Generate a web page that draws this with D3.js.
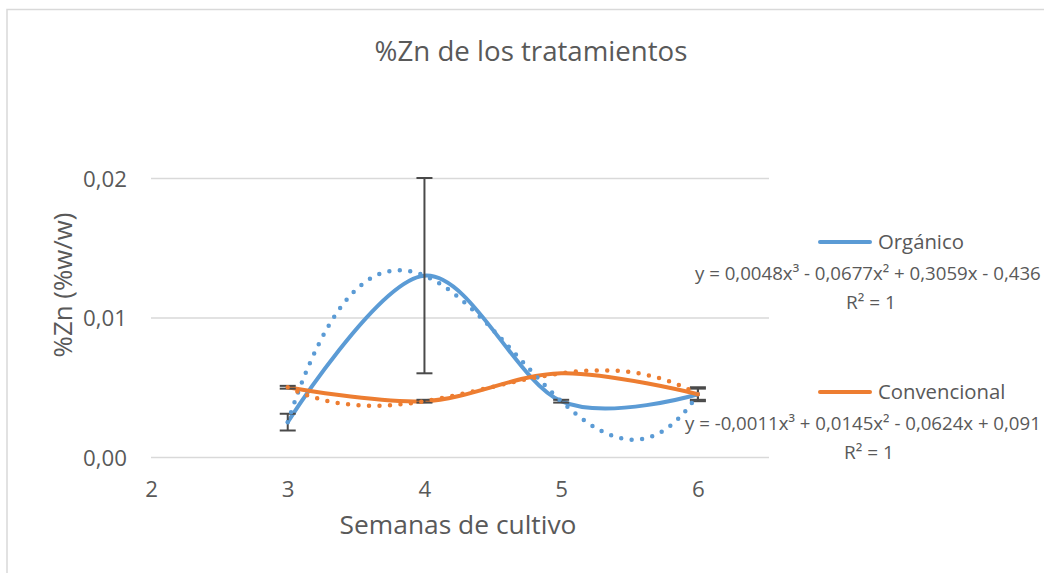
<!DOCTYPE html>
<html><head><meta charset="utf-8">
<script src="https://cdn.jsdelivr.net/npm/d3@7"></script>
<style>
html,body{margin:0;padding:0;background:#fff;}
svg{display:block;font-family:"Open Sans",sans-serif;}
</style></head>
<body>
<svg id="c" width="1044" height="573"></svg>
<script>
// ---- data ----
const semanas = [3, 4, 5, 6];
const organico = [0.0025, 0.013, 0.004, 0.0045];
const organicoErr = [0.0006, 0.007, 0.0001, 0.0005];
const convencional = [0.005, 0.004, 0.006, 0.0045];
const convencionalErr = [0.0001, 0.0001, 0, 0.0004];
const xTicks = [2, 3, 4, 5, 6];
const yTicks = [0, 0.01, 0.02];
const seriesNames = ["Orgánico", "Convencional"];
const equations = ["y = 0,0048x³ - 0,0677x² + 0,3059x - 0,436", "y = -0,0011x³ + 0,0145x² - 0,0624x + 0,091"];
const r2Labels = ["R² = 1", "R² = 1"];
const colors = ["#5B9BD5", "#ED7D31"];

const svg = d3.select("#c");
const x = d3.scaleLinear().domain([2, 6.52]).range([151, 769]);
const y = d3.scaleLinear().domain([0, 0.02]).range([457, 178]);
const txt = "#595959";

function fit(sel, target, base) {
  sel.attr("font-size", base);
  const w = sel.node().getComputedTextLength();
  if (w > 0) sel.attr("font-size", base * target / w);
  return sel;
}

// chart border
svg.append("rect").attr("x", 7).attr("y", 9.5).attr("width", 1200).attr("height", 700)
  .attr("fill", "none").attr("stroke", "#d9d9d9").attr("stroke-width", 1.5);

// title
fit(svg.append("text").attr("x", 531).attr("y", 61).attr("text-anchor", "middle")
  .attr("fill", txt).text("%Zn de los tratamientos"), 313, 24);

// gridlines
const yAxis = d3.axisLeft(y).tickValues(yTicks).tickSize(-(x.range()[1] - x.range()[0]))
  .tickFormat(d => d3.format(".2f")(d).replace(".", ","));
const gy = svg.append("g").attr("transform", `translate(${x.range()[0]},0)`).call(yAxis);
gy.select(".domain").remove();
gy.selectAll(".tick line").attr("stroke", "#d9d9d9").attr("stroke-width", 1.5);
gy.selectAll(".tick text").attr("x", -24).attr("dy", "0.36em")
  .attr("fill", txt).attr("font-family", "'Open Sans',sans-serif")
  .each(function () { fit(d3.select(this), 44, 19); });

const xAxis = d3.axisBottom(x).tickValues(xTicks).tickSize(0).tickFormat(d3.format("d"));
const gx = svg.append("g").attr("transform", `translate(0,${y(0)})`).call(xAxis);
gx.select(".domain").remove();
gx.selectAll(".tick text").attr("y", 40).attr("dy", 0)
  .attr("fill", txt).attr("font-family", "'Open Sans',sans-serif")
  .attr("font-size", +gy.select(".tick text").attr("font-size"));

// axis titles
fit(svg.append("text").attr("x", 458).attr("y", 534).attr("text-anchor", "middle")
  .attr("fill", txt).text("Semanas de cultivo"), 237, 22);
fit(svg.append("text").attr("transform", "translate(72,285) rotate(-90)").attr("text-anchor", "middle")
  .attr("fill", txt).text("%Zn (%w/w)"), 145, 22);

const data = [organico, convencional];
const errs = [organicoErr, convencionalErr];

// solid smoothed series
const line = d3.line().x(d => x(d[0])).y(d => y(d[1])).curve(d3.curveCatmullRom.alpha(0));
data.forEach((vals, i) => {
  svg.append("path").datum(semanas.map((s, j) => [s, vals[j]]))
    .attr("d", line).attr("fill", "none").attr("stroke", colors[i])
    .attr("stroke-width", 4).attr("stroke-linecap", "round");
});

// error bars
data.forEach((vals, i) => {
  const g = svg.append("g").attr("stroke", "#4a4a4a").attr("stroke-width", 2).attr("fill", "none");
  semanas.forEach((s, j) => {
    if (!errs[i][j]) return;
    const lo = y(vals[j] - errs[i][j]), hi = y(vals[j] + errs[i][j]), cx = x(s);
    g.append("line").attr("x1", cx).attr("x2", cx).attr("y1", lo).attr("y2", hi);
    g.append("line").attr("x1", cx - 8).attr("x2", cx + 8).attr("y1", lo).attr("y2", lo);
    g.append("line").attr("x1", cx - 8).attr("x2", cx + 8).attr("y1", hi).attr("y2", hi);
  });
});

// polynomial trendlines (order 3 exact fit through the 4 points)
function poly(xs, ys) {
  return t => {
    let s = 0;
    for (let i = 0; i < xs.length; i++) {
      let l = 1;
      for (let k = 0; k < xs.length; k++) if (k !== i) l *= (t - xs[k]) / (xs[i] - xs[k]);
      s += ys[i] * l;
    }
    return s;
  };
}
const tline = d3.line().x(d => x(d[0])).y(d => y(d[1]));
data.forEach((vals, i) => {
  const f = poly(semanas, vals);
  const pts = d3.range(0, 301).map(k => { const t = 3 + k * 0.01; return [t, f(t)]; });
  svg.append("path").datum(pts).attr("d", tline).attr("fill", "none")
    .attr("stroke", colors[i]).attr("stroke-width", 4.5).attr("stroke-linecap", "round")
    .attr("stroke-dasharray", "0 10.5");
});

// legend
const legY = [242, 392];
const eqX = [695, 685];
const r2X = [846, 844];
const eqW = [346, 356];
let legFont = null;
seriesNames.forEach((n, i) => {
  svg.append("line").attr("x1", 820).attr("x2", 870).attr("y1", legY[i]).attr("y2", legY[i])
    .attr("stroke", colors[i]).attr("stroke-width", 4).attr("stroke-linecap", "round");
  const t = svg.append("text").attr("x", 878).attr("y", legY[i]).attr("dy", "0.35em")
    .attr("fill", txt).text(n);
  if (legFont === null) { fit(t, 86, 20); legFont = t.attr("font-size"); }
  else t.attr("font-size", legFont);
  const e = svg.append("text").attr("x", eqX[i]).attr("y", legY[i] + 31).attr("dy", "0.35em")
    .attr("fill", txt).text(equations[i]);
  fit(e, eqW[i], 17);
  const r = svg.append("text").attr("x", r2X[i]).attr("y", legY[i] + 60).attr("dy", "0.35em")
    .attr("fill", txt).text(r2Labels[i]);
  fit(r, 50, 17);
});
</script>
</body></html>
